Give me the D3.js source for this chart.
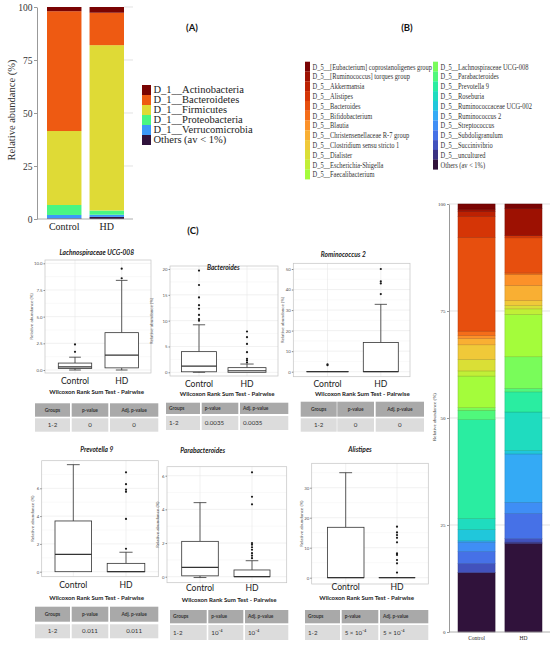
<!DOCTYPE html>
<html>
<head>
<meta charset="utf-8">
<script src="https://cdn.jsdelivr.net/npm/d3@7"></script>
<style>
body { margin: 0; background: #fff; }
svg { display: block; }
</style>
</head>
<body>
<svg id="fig" width="550" height="645"></svg>
<script>
// ---------- data ----------
const groups = ["Control", "HD"];
const abundanceTicks = [0, 25, 50, 75, 100];

// (A) phylum level, legend order (top of bar first)
const phyla = ["D_1__Actinobacteria", "D_1__Bacteroidetes", "D_1__Firmicutes",
  "D_1__Proteobacteria", "D_1__Verrucomicrobia", "Others (av < 1%)"];
const phylaControl = [2.0, 56.5, 34.9, 4.7, 1.6, 0.3];
const phylaHD = [2.7, 15.3, 78.0, 2.0, 1.0, 1.0];

// (B) genus level
const genera = ["D_5__[Eubacterium] coprostanoligenes group", "D_5__[Ruminococcus] torques group",
  "D_5__Akkermansia", "D_5__Alistipes", "D_5__Bacteroides", "D_5__Bifidobacterium", "D_5__Blautia",
  "D_5__Christensenellaceae R-7 group", "D_5__Clostridium sensu stricto 1", "D_5__Dialister",
  "D_5__Escherichia-Shigella", "D_5__Faecalibacterium", "D_5__Lachnospiraceae UCG-008",
  "D_5__Parabacteroides", "D_5__Prevotella 9", "D_5__Roseburia", "D_5__Ruminococcaceae UCG-002",
  "D_5__Ruminococcus 2", "D_5__Streptococcus", "D_5__Subdoligranulum", "D_5__Succinivibrio",
  "D_5__uncultured", "Others (av < 1%)"];
const generaControl = [1.2, 0.5, 1.2, 4.9, 21.9, 1.0, 0.7, 1.5, 3.4, 2.7, 1.2, 7.4, 0.6, 2.2,
  23.1, 2.6, 2.6, 0.3, 2.2, 2.8, 2.1, 0.0, 13.9];
const generaHD = [1.0, 6.4, 0.0, 0.5, 8.2, 0.3, 2.6, 3.5, 1.2, 0.8, 1.3, 9.9, 7.4, 0.8,
  4.7, 9.0, 0.8, 11.3, 2.6, 5.9, 0.8, 0.4, 20.6];

// (C) box plots: [lower whisker, Q1, median, Q3, upper whisker]
const boxTitles = ["Lachnospiraceae UCG-008", "Bacteroides", "Rominococcus 2",
  "Prevotella 9", "Parabacteroides", "Alistipes"];
const boxControl = [[0, 0.15, 0.3, 0.65, 1.2], [0, 0.1, 1.2, 4.0, 9.2], [0, 0, 0, 0, 0],
  [0, 0, 1.25, 3.65, 7.7], [-0.05, 0.05, 0.55, 2.1, 4.4], [0, 0, 0, 16.8, 35]];
const boxHD = [[0, 0.2, 1.4, 3.5, 8.4], [0, 0, 0.3, 0.9, 1.6], [0, 0, 0, 14.2, 32.8],
  [0, 0, 0, 0.6, 1.4], [0, 0, 0, 0.4, 0.95], [0, 0, 0, 0, 0]];
const outControl = [[1.7, 2.4], [10.0, 10.3, 11.1, 12.3, 13.0, 14.5, 16.9, 19.7], [3.2, 3.6], [], [], []];
const outHD = [[8.6, 9.5], [1.9, 2.3, 2.6, 3.9, 5.5, 6.8, 7.9], [37.8, 43.0, 44.0, 50.0],
  [1.65, 3.8, 5.75, 5.9, 6.3, 7.15], [1.1, 1.25, 1.4, 1.6, 1.75, 1.9, 2.0, 4.3, 4.75, 6.2],
  [1.7, 4.8, 5.9, 7.6, 8.1, 11.8, 13.3, 14.2, 15.1, 17.0]];
const boxTicks = [[0, 2.5, 5, 7.5, 10], [0, 5, 10, 15, 20], [0, 10, 20, 30, 40, 50],
  [0, 2, 4, 6], [0, 2, 4, 6], [0, 10, 20, 30]];
const tableHeader = ["Groups", "p-value", "Adj. p-value"];
const tableGroup = "1-2";
const pValues = ["0", "0.0035", "0", "0.011", "10\u207B\u2074", "5 \u00D7 10\u207B\u2074"];
const adjPValues = ["0", "0.0035", "0", "0.011", "10\u207B\u2074", "5 \u00D7 10\u207B\u2074"];

// turbo colour map stops
const turboStops = ["#30123b", "#4145ab", "#4675ed", "#39a2fc", "#1bcfd4", "#24eca6", "#61fc6c",
  "#a4fc3b", "#d1e834", "#f3c63a", "#fe9b2d", "#f36315", "#d93806", "#b11901", "#7a0403"];

// ---------- drawing ----------
const svg = d3.select("#fig");
const turbo = d3.piecewise(d3.interpolateRgb, turboStops);
const serif = "Liberation Serif, Times New Roman, serif";
const sans = "Lato, Open Sans, sans-serif";

function stackedBars(names, values, o) {
  const g = svg.append("g");
  const x = d3.scaleBand().domain(groups).range([o.left, o.right]).paddingInner(o.pad);
  const y = d3.scaleLinear().domain([0, 100]).range([o.bottom, o.top]);
  const color = d3.scaleOrdinal().domain(names)
    .range(names.map((d, i) => turbo(1 - i / (names.length - 1))));
  const rows = groups.map((grp, gi) => {
    const r = {group: grp};
    names.forEach((n, i) => r[n] = values[gi][i]);
    return r;
  });
  const series = d3.stack().keys(names.slice().reverse())(rows);

  // grid lines behind bars
  g.selectAll("line.grid").data(abundanceTicks.slice(1)).join("line")
    .attr("x1", o.gridX0).attr("x2", o.gridX1)
    .attr("y1", d => y(d)).attr("y2", d => y(d))
    .attr("stroke", "#d6d6d6").attr("stroke-width", 0.7);

  g.selectAll("g.s").data(series).join("g")
    .attr("fill", d => color(d.key))
    .attr("stroke", d => o.sep ? d3.color(color(d.key)).darker(0.7) : "none")
    .attr("stroke-width", 0.5)
    .selectAll("rect").data(d => d.filter(v => v[1] - v[0] > 0)).join("rect")
    .attr("x", d => x(d.data.group)).attr("width", x.bandwidth())
    .attr("y", d => y(d[1])).attr("height", d => y(d[0]) - y(d[1]));

  // axes
  const ax = g.append("g").attr("transform", `translate(${o.axisX},0)`)
    .call(d3.axisLeft(y).tickValues(abundanceTicks).tickSize(o.tick).tickSizeOuter(0).tickPadding(1.5));
  ax.select(".domain").attr("stroke", "#999");
  ax.selectAll(".tick line").attr("stroke", "#999");
  ax.selectAll("text").attr("font-family", serif).attr("font-size", o.tickFont).attr("fill", "#333");

  g.append("line").attr("x1", o.axisX).attr("x2", o.gridX1)
    .attr("y1", y(0)).attr("y2", y(0)).attr("stroke", "#999").attr("stroke-width", 0.8);

  const bx = g.append("g").attr("transform", `translate(0,${y(0)})`)
    .call(d3.axisBottom(x).tickSize(0).tickPadding(o.catPad));
  bx.select(".domain").remove();
  bx.selectAll("text").attr("font-family", serif).attr("font-size", o.catFont).attr("fill", "#222");

  g.append("text")
    .attr("transform", `translate(${o.labX},${o.labY}) rotate(-90)`)
    .attr("text-anchor", "middle").attr("font-family", serif)
    .attr("font-size", o.labFont).attr("fill", "#333")
    .text("Relative abundance (%)");
  return color;
}

// (A)
const colorA = stackedBars(phyla, [phylaControl, phylaHD], {
  left: 47, right: 124, pad: 0.19, top: 7, bottom: 219, axisX: 37, gridX0: 124, gridX1: 133,
  tick: 3, tickFont: 9.5, catFont: 10, catPad: 4, labX: 15, labY: 110, labFont: 10.5, sep: false
});
const legA = svg.append("g");
phyla.forEach((p, i) => {
  legA.append("rect").attr("x", 142).attr("y", 85 + i * 10).attr("width", 9).attr("height", 10)
    .attr("fill", colorA(p));
  legA.append("text").attr("x", 153.5).attr("y", 93 + i * 10)
    .attr("font-family", serif).attr("font-size", 10.5).attr("fill", "#222").text(p);
});

// (B)
const colorB = stackedBars(genera, [generaControl, generaHD], {
  left: 458, right: 542, pad: 0.21, top: 204, bottom: 632, axisX: 449, gridX0: 449, gridX1: 550,
  tick: 2, tickFont: 5, catFont: 5.5, catPad: 4, labX: 436, labY: 417, labFont: 5, sep: true
});
const legB = svg.append("g");
genera.forEach((n, i) => {
  const col = i < 12 ? 0 : 1;
  const row = i < 12 ? i : i - 12;
  const sx = col === 0 ? 305 : 433;
  const yy = 61.7 + row * 9.8;
  legB.append("rect").attr("x", sx).attr("y", yy).attr("width", 5).attr("height", 9.9)
    .attr("fill", colorB(n));
  legB.append("text")
    .attr("transform", `translate(${sx + 7.5},${yy + 7.8}) scale(0.75,1)`)
    .attr("font-family", serif).attr("font-size", 8.6).attr("fill", "#333").text(n);
});

// panel letters
[["(A)", 192, 31], ["(B)", 407, 31], ["(C)", 193, 234]].forEach(([t, x, y]) => {
  svg.append("text").attr("x", x).attr("y", y).attr("text-anchor", "middle")
    .attr("font-family", sans).attr("font-weight", "bold").attr("font-size", 9.5)
    .attr("fill", "#111").text(t);
});

// (C) box plot layout
const boxLayout = [
  {rect: [45, 260, 151, 373], y0: 370, yTop: 263.3, fmt: ".1f", centers: [75, 121.7], hw: [16.7, 16.7],
    title: [96.7, 255], ylabX: 33, catY: 384, testY: 394,
    cols: [[35, 70], [71.7, 108.3], [110, 158.3]], head: [403.3, 416.7], body: [418.3, 431.7], align: "middle"},
  {rect: [170, 266, 278, 376], y0: 372.3, yTop: 269, fmt: "d", centers: [199, 247], hw: [17.5, 19],
    title: [223.3, 270], ylabX: 153.3, catY: 387, testY: 395.5,
    cols: [[166, 200], [201.7, 238.3], [240, 288.3]], head: [402.7, 414], body: [416, 430], align: "start"},
  {rect: [293.3, 263.3, 410, 376.7], y0: 371.7, yTop: 269, fmt: "d", centers: [327.5, 380.8], hw: [20.8, 17.5],
    title: [343.3, 256.5], ylabX: 284.3, catY: 387, testY: 395.5,
    cols: [[300.7, 336.7], [337.3, 374], [375.7, 424]], head: [401.7, 416.7], body: [418.3, 431.7], align: "middle"},
  {rect: [41.7, 460.7, 158.3, 576.7], y0: 571.7, yTop: 488.3, fmt: "d", centers: [73.3, 126], hw: [18.3, 18.8],
    title: [96.7, 452], ylabX: 34, catY: 588, testY: 600,
    cols: [[35, 70], [71.7, 108.3], [110, 158.3]], head: [606.7, 621.7], body: [624.3, 638.3], align: "middle"},
  {rect: [167, 466.7, 286.7, 582.7], y0: 576.7, yTop: 475.7, fmt: "d", centers: [200, 252], hw: [18.3, 18],
    title: [202.7, 452.5], ylabX: 159, catY: 591, testY: 601.5,
    cols: [[170, 206.7], [208.3, 243.3], [245, 288.3]], head: [610, 623.3], body: [625, 640], align: "start"},
  {rect: [311.7, 463.3, 428.3, 584], y0: 577.7, yTop: 487.7, fmt: "d", centers: [345.7, 397], hw: [18.3, 18],
    title: [360, 451.5], ylabX: 303.3, catY: 590, testY: 600,
    cols: [[305, 340], [341.7, 378.3], [380, 428.3]], head: [610, 623.3], body: [625, 640], align: "start"}
];

function boxPanel(i) {
  const L = boxLayout[i];
  const ticks = boxTicks[i];
  const vmax = ticks[ticks.length - 1];
  const [rx0, ry0, rx1, ry1] = L.rect;
  const g = svg.append("g");
  const y = d3.scaleLinear().domain([0, vmax]).range([L.y0, L.yTop]);
  const x = d3.scalePoint().domain(groups).range(L.centers);

  g.append("rect").attr("x", rx0).attr("y", ry0).attr("width", rx1 - rx0).attr("height", ry1 - ry0)
    .attr("fill", "#fff");
  // grid
  const step = ticks[1] - ticks[0];
  const minor = d3.range(ticks[0] - step / 2, vmax + step, step).filter(v => y(v) > ry0 && y(v) < ry1);
  g.selectAll("line.mn").data(minor).join("line")
    .attr("x1", rx0).attr("x2", rx1).attr("y1", d => y(d)).attr("y2", d => y(d))
    .attr("stroke", "#f3f3f3").attr("stroke-width", 0.5);
  g.selectAll("line.mj").data(ticks).join("line")
    .attr("x1", rx0).attr("x2", rx1).attr("y1", d => y(d)).attr("y2", d => y(d))
    .attr("stroke", "#e8e8e8").attr("stroke-width", 0.6);
  g.selectAll("line.vg").data(groups).join("line")
    .attr("x1", d => x(d)).attr("x2", d => x(d)).attr("y1", ry0).attr("y2", ry1)
    .attr("stroke", "#e8e8e8").attr("stroke-width", 0.6);
  g.append("rect").attr("x", rx0).attr("y", ry0).attr("width", rx1 - rx0).attr("height", ry1 - ry0)
    .attr("fill", "none").attr("stroke", "#c4c4c4").attr("stroke-width", 0.7);

  const ax = g.append("g").attr("transform", `translate(${rx0},0)`)
    .call(d3.axisLeft(y).tickValues(ticks).tickFormat(d3.format(L.fmt)).tickSize(1.5).tickSizeOuter(0).tickPadding(1));
  ax.select(".domain").remove();
  ax.selectAll(".tick line").attr("stroke", "#888");
  ax.selectAll("text").attr("font-family", sans).attr("font-size", 4.3).attr("fill", "#555");

  g.append("text").attr("transform", `translate(${L.ylabX},${(ry0 + ry1) / 2}) rotate(-90)`)
    .attr("text-anchor", "middle").attr("font-family", sans).attr("font-size", 4.6).attr("fill", "#555")
    .text("Relative abundance (%)");

  const stats = [boxControl[i], boxHD[i]];
  const outs = [outControl[i], outHD[i]];
  groups.forEach((grp, gi) => {
    const [lo, q1, med, q3, hi] = stats[gi];
    const cx = x(grp), hw = L.hw[gi], cap = hw * 0.35;
    const bg = g.append("g").attr("stroke", "#333").attr("stroke-width", 0.8).attr("fill", "#fff");
    bg.append("line").attr("x1", cx).attr("x2", cx).attr("y1", y(q3)).attr("y2", y(hi));
    bg.append("line").attr("x1", cx).attr("x2", cx).attr("y1", y(q1)).attr("y2", y(lo));
    if (hi > q3) bg.append("line").attr("x1", cx - cap).attr("x2", cx + cap).attr("y1", y(hi)).attr("y2", y(hi));
    if (lo < q1) bg.append("line").attr("x1", cx - cap).attr("x2", cx + cap).attr("y1", y(lo)).attr("y2", y(lo));
    bg.append("rect").attr("x", cx - hw).attr("width", 2 * hw)
      .attr("y", y(q3)).attr("height", Math.max(0.01, y(q1) - y(q3)));
    bg.append("line").attr("x1", cx - hw).attr("x2", cx + hw).attr("y1", y(med)).attr("y2", y(med))
      .attr("stroke-width", 1.2);
    g.selectAll(null).data(outs[gi]).join("circle")
      .attr("cx", cx).attr("cy", d => y(d)).attr("r", 1.1).attr("fill", "#1a1a1a");
  });

  g.selectAll("text.cat").data(groups).join("text")
    .attr("x", d => x(d)).attr("y", L.catY).attr("text-anchor", "middle")
    .attr("font-family", sans).attr("font-size", 8.6).attr("fill", "#222").text(d => d);

  g.append("text").attr("x", L.title[0]).attr("y", L.title[1]).attr("text-anchor", "middle")
    .attr("font-family", sans).attr("font-weight", "bold").attr("font-style", "italic")
    .attr("font-size", 6.6).attr("fill", "#222").text(boxTitles[i]);

  const tcx = (L.cols[0][0] + L.cols[2][1]) / 2;
  g.append("text").attr("x", tcx).attr("y", L.testY).attr("text-anchor", "middle")
    .attr("font-family", sans).attr("font-weight", "bold").attr("font-size", 6.1).attr("fill", "#222")
    .text("Wilcoxon Rank Sum Test - Pairwise");

  const tableRows = [
    {cells: tableHeader, band: L.head, fill: "#a9a9a9", bold: true, size: 4.8},
    {cells: [tableGroup, pValues[i], adjPValues[i]], band: L.body, fill: "#dcdcdc", bold: false, size: 6.2}
  ];
  tableRows.forEach(r => {
    r.cells.forEach((c, j) => {
      const [c0, c1] = L.cols[j];
      g.append("rect").attr("x", c0).attr("y", r.band[0]).attr("width", c1 - c0)
        .attr("height", r.band[1] - r.band[0]).attr("fill", r.fill);
      g.append("text")
        .attr("x", L.align === "middle" ? (c0 + c1) / 2 : c0 + 3)
        .attr("y", (r.band[0] + r.band[1]) / 2).attr("dy", "0.35em")
        .attr("text-anchor", L.align)
        .attr("font-family", sans).attr("font-weight", r.bold ? "bold" : "normal")
        .attr("font-size", r.size).attr("fill", "#333").text(c);
    });
  });
}

boxTitles.forEach((t, i) => boxPanel(i));
</script>
</body>
</html>
